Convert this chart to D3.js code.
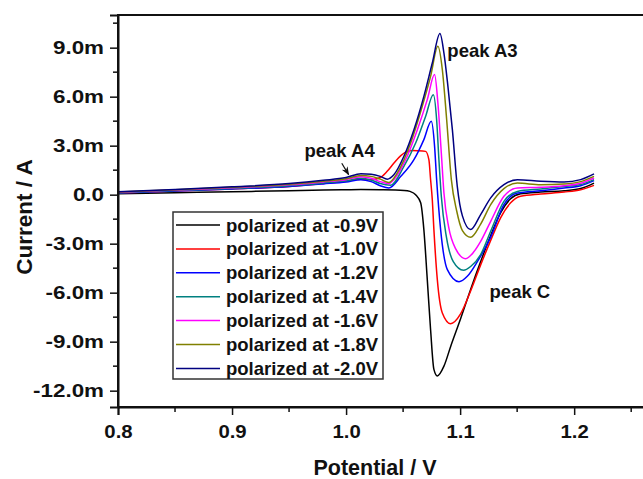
<!DOCTYPE html>
<html>
<head>
<meta charset="utf-8">
<script src="https://cdn.jsdelivr.net/npm/d3@7"></script>
<style>
  html, body { margin: 0; padding: 0; background: #fff; }
  svg { display: block; }
  text { font-family: Arial, "Liberation Sans", Helvetica, sans-serif; font-weight: bold; fill: #111; }
</style>
</head>
<body>
<svg id="chart" width="643" height="479"></svg>
<script>
// Cyclic voltammetry sweeps after polarization at different potentials.
// Each series: [potential (V), current (mA)].
const sweep_m09 = [[0.80,0.05],[0.85,0.12],[0.90,0.18],[0.95,0.24],[0.98,0.28],[1.00,0.30],[1.013,0.31],[1.030,0.30],[1.051,0.26],[1.056,0.20],[1.061,0.0],[1.0654,-0.5],[1.0682,-2.14],[1.0712,-5.2],[1.0741,-8.27],[1.077,-10.7],[1.080,-11.1],[1.0858,-10.5],[1.0917,-9.29],[1.1004,-7.6],[1.1092,-5.8],[1.118,-4.1],[1.1268,-2.5],[1.1356,-1.1],[1.1443,-0.25],[1.153,0.05],[1.1706,0.16],[1.1911,0.24],[1.2057,0.38],[1.2174,0.71]];
const sweep_m10 = [[0.80,0.10],[0.85,0.22],[0.90,0.35],[0.95,0.50],[0.98,0.68],[1.00,0.82],[1.013,0.95],[1.022,0.92],[1.030,1.05],[1.036,1.43],[1.042,1.94],[1.048,2.39],[1.0522,2.6],[1.058,2.7],[1.0625,2.69],[1.0697,2.65],[1.0726,2.14],[1.0741,0.92],[1.0756,-0.31],[1.077,-2.14],[1.080,-5.2],[1.0844,-7.24],[1.0917,-7.9],[1.1004,-7.3],[1.1092,-5.9],[1.118,-4.3],[1.1268,-2.8],[1.1356,-1.4],[1.1443,-0.5],[1.153,-0.1],[1.1706,0.04],[1.1911,0.16],[1.2057,0.3],[1.2174,0.57]];
const sweep_m12 = [[0.80,0.10],[0.85,0.22],[0.90,0.35],[0.95,0.50],[0.98,0.66],[1.00,0.78],[1.013,0.92],[1.022,0.80],[1.030,0.55],[1.0375,0.41],[1.048,1.12],[1.0595,2.14],[1.0682,3.37],[1.0747,4.49],[1.0776,2.96],[1.0794,0.92],[1.0829,-2.14],[1.0888,-4.59],[1.099,-5.33],[1.1063,-5.0],[1.1151,-4.1],[1.1268,-2.6],[1.1384,-0.61],[1.1502,0.1],[1.1706,0.24],[1.1911,0.41],[1.2057,0.55],[1.2174,0.86]];
const sweep_m14 = [[0.80,0.12],[0.85,0.25],[0.90,0.38],[0.95,0.55],[0.98,0.72],[1.00,0.85],[1.013,1.0],[1.022,0.9],[1.030,0.68],[1.039,0.58],[1.0507,1.73],[1.061,3.16],[1.0697,4.79],[1.0765,6.12],[1.0794,4.59],[1.0814,2.14],[1.0835,-0.1],[1.088,-2.6],[1.094,-4.1],[1.103,-4.63],[1.1092,-4.4],[1.118,-3.67],[1.1268,-2.24],[1.1384,-0.41],[1.1502,0.2],[1.1706,0.35],[1.1911,0.5],[1.2057,0.62],[1.2174,0.92]];
const sweep_m16 = [[0.80,0.14],[0.85,0.28],[0.90,0.42],[0.95,0.60],[0.98,0.78],[1.00,0.92],[1.013,1.1],[1.022,1.0],[1.030,0.8],[1.0375,0.67],[1.0419,0.92],[1.0522,2.14],[1.0625,3.98],[1.0712,5.82],[1.0776,7.35],[1.0805,5.61],[1.0835,2.55],[1.0858,0.1],[1.090,-2.0],[1.096,-3.3],[1.1048,-3.92],[1.112,-3.5],[1.118,-2.86],[1.1268,-1.63],[1.1384,-0.1],[1.1502,0.41],[1.1706,0.45],[1.1911,0.55],[1.2057,0.7],[1.2174,1.02]];
const sweep_m18 = [[0.80,0.16],[0.85,0.30],[0.90,0.45],[0.95,0.64],[0.98,0.82],[1.00,0.98],[1.013,1.18],[1.022,1.12],[1.030,0.95],[1.0375,0.75],[1.0449,1.33],[1.0566,3.16],[1.0668,5.41],[1.0741,7.24],[1.0805,9.08],[1.0844,7.65],[1.0882,4.59],[1.0923,0.92],[1.097,-1.0],[1.102,-2.2],[1.1092,-2.61],[1.118,-1.8],[1.1268,-0.61],[1.1384,0.37],[1.1502,0.71],[1.1706,0.61],[1.1911,0.65],[1.2057,0.8],[1.2174,1.12]];
const sweep_m20 = [[0.80,0.18],[0.85,0.32],[0.90,0.48],[0.95,0.68],[0.98,0.88],[1.00,1.05],[1.013,1.28],[1.022,1.25],[1.030,1.12],[1.0361,0.95],[1.0419,1.22],[1.0507,2.35],[1.0595,3.98],[1.0682,6.02],[1.0756,8.06],[1.0823,9.86],[1.0858,8.67],[1.0893,6.63],[1.0932,3.98],[1.0975,0.51],[1.102,-1.3],[1.1092,-2.14],[1.118,-1.22],[1.1268,-0.2],[1.1384,0.61],[1.1502,0.92],[1.1706,0.82],[1.1911,0.77],[1.2057,0.92],[1.2174,1.27]];

const seriesData = [sweep_m09, sweep_m10, sweep_m12, sweep_m14, sweep_m16, sweep_m18, sweep_m20];
const seriesLabels = ["polarized at -0.9V","polarized at -1.0V","polarized at -1.2V","polarized at -1.4V","polarized at -1.6V","polarized at -1.8V","polarized at -2.0V"];
const seriesColors = ["#000000","#ff0000","#0000ff","#008080","#ff00ff","#808000","#000080"];

const xTickValues = [0.8, 0.9, 1.0, 1.1, 1.2];
const xTickLabels = ["0.8", "0.9", "1.0", "1.1", "1.2"];
const xMinorTicks = [0.85, 0.95, 1.05, 1.15, 1.25];
const yTickValues = [-12, -9, -6, -3, 0, 3, 6, 9];
const yTickLabels = ["-12.0m", "-9.0m", "-6.0m", "-3.0m", "0.0", "3.0m", "6.0m", "9.0m"];
const yMinorTicks = [-10.5, -7.5, -4.5, -1.5, 1.5, 4.5, 7.5, 10.5];

const annotations = [
  { text: "peak A3", x: 1.0888, y: 8.43 },
  { text: "peak A4", x: 0.9635, y: 2.31 },
  { text: "peak C", x: 1.1258, y: -6.33 }
];
const arrowA4 = { from: [0.9962, 1.92], to: [1.0022, 1.23] };

const svg = d3.select("#chart");
const plotLeft = 118, plotRight = 654, plotTop = 15, plotBottom = 407;

const x = d3.scaleLinear().domain([0.8, 1.27]).range([plotLeft, plotRight]);
const y = d3.scaleLinear().domain([-13, 11]).range([plotBottom, plotTop]);

// curves
const line = d3.line()
  .x(d => x(d[0]))
  .y(d => y(d[1]))
  .curve(d3.curveMonotoneX);

svg.append("g").selectAll("path")
  .data(seriesData)
  .join("path")
  .attr("d", line)
  .attr("fill", "none")
  .attr("stroke", (d, i) => seriesColors[i])
  .attr("stroke-width", 1.5)
  .attr("stroke-linejoin", "round");

// frame
svg.append("rect")
  .attr("x", plotLeft).attr("y", plotTop)
  .attr("width", plotRight - plotLeft).attr("height", plotBottom - plotTop)
  .attr("fill", "none").attr("stroke", "#111").attr("stroke-width", 2);

// axes (tick labels use a slightly widened bold face)
const xLabelStretch = 1.1, yLabelStretch = 1.28;

const xAxis = d3.axisBottom(x).tickValues(xTickValues)
  .tickFormat((d, i) => xTickLabels[i]).tickSize(8);
const gx = svg.append("g").attr("transform", `translate(0,${plotBottom})`).call(xAxis);
gx.selectAll(".tick line").attr("stroke", "#111").attr("stroke-width", 1.5);
gx.select(".domain").attr("stroke", "#111").attr("stroke-width", 2);
gx.selectAll(".tick text")
  .attr("font-size", 18.5).attr("fill", "#111")
  .attr("y", 17.5)
  .attr("transform", `scale(${xLabelStretch},1)`)
  .style("font-family", "Arial, 'Liberation Sans', sans-serif").style("font-weight", "bold");

gx.selectAll(".minor").data(xMinorTicks).join("line")
  .attr("class", "minor")
  .attr("x1", d => x(d)).attr("x2", d => x(d))
  .attr("y1", 0).attr("y2", 5)
  .attr("stroke", "#111").attr("stroke-width", 1.5);

const yAxis = d3.axisLeft(y).tickValues(yTickValues)
  .tickFormat((d, i) => yTickLabels[i]).tickSize(8);
const gy = svg.append("g").attr("transform", `translate(${plotLeft},0)`).call(yAxis);
gy.selectAll(".tick line").attr("stroke", "#111").attr("stroke-width", 1.5);
gy.select(".domain").attr("stroke", "#111").attr("stroke-width", 2);
gy.selectAll(".tick text")
  .attr("font-size", 17.5).attr("fill", "#111")
  .attr("x", -14 / yLabelStretch)
  .attr("transform", `scale(${yLabelStretch},1)`)
  .style("font-family", "Arial, 'Liberation Sans', sans-serif").style("font-weight", "bold");

gy.selectAll(".minor").data(yMinorTicks).join("line")
  .attr("class", "minor")
  .attr("y1", d => y(d)).attr("y2", d => y(d))
  .attr("x1", 0).attr("x2", -5)
  .attr("stroke", "#111").attr("stroke-width", 1.5);

// axis titles
svg.append("text")
  .attr("x", 375).attr("y", 475)
  .attr("text-anchor", "middle")
  .attr("font-size", 21.5)
  .text("Potential / V");

svg.append("text")
  .attr("transform", "translate(32,217) rotate(-90)")
  .attr("text-anchor", "middle")
  .attr("font-size", 22.5)
  .text("Current / A");

// legend
const legend = svg.append("g");
legend.append("rect")
  .attr("x", 173).attr("y", 212)
  .attr("width", 210).attr("height", 167)
  .attr("fill", "#fff").attr("stroke", "#333").attr("stroke-width", 1.5);
const rows = legend.selectAll("g.row").data(seriesLabels).join("g")
  .attr("class", "row")
  .attr("transform", (d, i) => `translate(0,${225 + i * 23.9})`);
rows.append("line")
  .attr("x1", 176).attr("x2", 220).attr("y1", 0).attr("y2", 0)
  .attr("stroke", (d, i) => seriesColors[i]).attr("stroke-width", 1.5);
rows.append("text")
  .attr("x", 226).attr("y", 6.5)
  .attr("font-size", 18.5)
  .text(d => d);

// peak annotations
svg.append("g").selectAll("text")
  .data(annotations)
  .join("text")
  .attr("x", d => x(d.x)).attr("y", d => y(d.y))
  .attr("font-size", 18.5)
  .text(d => d.text);

svg.append("defs").append("marker")
  .attr("id", "arrowhead")
  .attr("viewBox", "0 0 10 10")
  .attr("refX", 9).attr("refY", 5)
  .attr("markerWidth", 7).attr("markerHeight", 7)
  .attr("orient", "auto")
  .append("path").attr("d", "M0,1 L10,5 L0,9 L3,5 Z").attr("fill", "#111");

svg.append("line")
  .attr("x1", x(arrowA4.from[0])).attr("y1", y(arrowA4.from[1]))
  .attr("x2", x(arrowA4.to[0])).attr("y2", y(arrowA4.to[1]))
  .attr("stroke", "#111").attr("stroke-width", 1.2)
  .attr("marker-end", "url(#arrowhead)");
</script>
</body>
</html>
